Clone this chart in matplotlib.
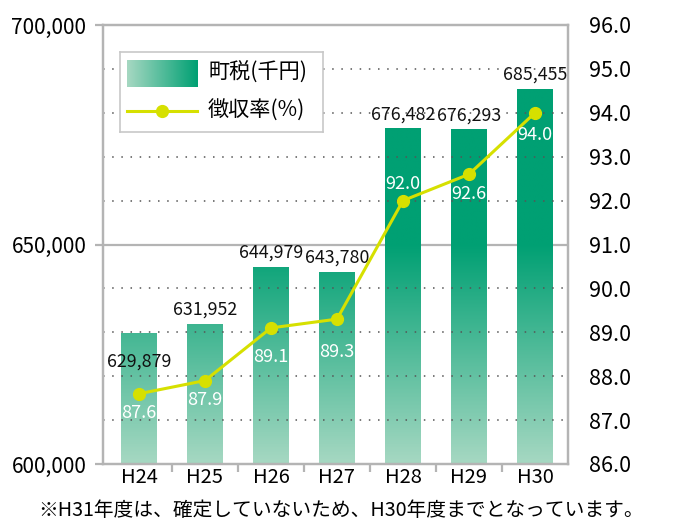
import numpy as np
import matplotlib
matplotlib.use("Agg")
import matplotlib.pyplot as plt
from matplotlib.colors import LinearSegmentedColormap

plt.rcParams['font.family'] = ['Noto Sans CJK JP', 'DejaVu Sans']

years = ["H24", "H25", "H26", "H27", "H28", "H29", "H30"]
tax = [629879, 631952, 644979, 643780, 676482, 676293, 685455]
rate = [87.6, 87.9, 89.1, 89.3, 92.0, 92.6, 94.0]
left_ticks = [600000, 650000, 700000]
right_ticks = [86.0, 87.0, 88.0, 89.0, 90.0, 91.0, 92.0, 93.0, 94.0, 95.0, 96.0]
footnote = "※H31年度は、確定していないため、H30年度までとなっています。"

DARK = "#00a073"
LIGHT = "#a6d8c2"
GRAY = "#b4b4b4"
LINE = "#d6e000"
cmap = LinearSegmentedColormap.from_list("g", [LIGHT, DARK])

W, H = 683, 528
fig = plt.figure(figsize=(W / 100, H / 100), dpi=100)
ax = fig.add_axes([103 / W, 1 - 464 / H, 465 / W, 439 / H])
x = np.arange(len(years))

# dotted grid at right-axis positions (the 650,000 line is solid)
ax2 = ax.twinx()
ax2.set_ylim(86, 96)
for v in right_ticks[1:-1]:
    if v == 91.0:
        continue
    ax2.axhline(v, color="#555555", lw=1.1, ls=(0, (1, 5)), zorder=0)
ax.axhline(650000, color=GRAY, lw=1.6, zorder=0.5)

# gradient bars: solid above 650,000, fading to light at 600,000
yy = np.linspace(700000, 600000, 400)
grad = np.clip((yy - 600000) / 50000, 0, 1)[:, None]
bars = ax.bar(x, tax, width=0.545, color="none", zorder=1)
for b in bars:
    im = ax.imshow(grad, cmap=cmap, vmin=0, vmax=1, aspect="auto",
                   extent=[b.get_x(), b.get_x() + b.get_width(), 600000, 700000],
                   zorder=1, interpolation="bilinear")
    im.set_clip_path(b)
ax.set_xlim(-0.545, 6.5)
ax.set_ylim(600000, 700000)

for i, v in enumerate(tax):
    if i == 0:
        ax.annotate(f"{v:,}", (i, v), xytext=(0, -21), textcoords="offset points",
                    ha="center", va="center", fontsize=12.8, color="#111111", zorder=3)
    else:
        ax.annotate(f"{v:,}", (i, v), xytext=(0, 3.5), textcoords="offset points",
                    ha="center", va="bottom", fontsize=12.8, color="#111111", zorder=3)

ax2.plot(x, rate, color=LINE, lw=2.2, marker="o", ms=8.5, mfc=LINE, mec=LINE, zorder=4)
label_off = [-14, -14, -21, -24, 12, -14, -16]
for i, v in enumerate(rate):
    ax2.annotate(f"{v:.1f}", (i, v), xytext=(0, label_off[i]), textcoords="offset points",
                 ha="center", va="center", fontsize=13, color="white", zorder=5)

# axes styling
for a in (ax, ax2):
    for s in a.spines.values():
        s.set_color(GRAY)
        s.set_linewidth(1.6)
ax.set_yticks(left_ticks)
ax.set_yticklabels([f"{v:,}" for v in left_ticks], fontsize=15)
ax.tick_params(axis="y", length=6, width=1.6, color=GRAY, pad=6)
ax2.set_yticks(right_ticks)
ax2.set_yticklabels([f"{v:.1f}" for v in right_ticks], fontsize=15.5)
ax2.tick_params(axis="y", length=0, pad=15)
ax.set_xticks(x)
ax.set_xticklabels(years, fontsize=14.5)
ax.tick_params(axis="x", length=0, pad=2)
ax.set_xticks(x[:-1] + 0.5, minor=True)
ax.tick_params(axis="x", which="minor", length=6, width=1.6, color=GRAY)

# legend drawn by hand
lg = fig.add_axes([120 / W, 1 - 132 / H, 203 / W, 80 / H])
lg.set_xticks([])
lg.set_yticks([])
for s in lg.spines.values():
    s.set_color("#c8c8c8")
    s.set_linewidth(1.2)
lg.imshow(np.linspace(0, 1, 100)[None, :], cmap=cmap, aspect="auto",
          extent=[7, 78, 35, 8], interpolation="bilinear")
lg.plot([7, 77], [59, 59], color=LINE, lw=2.2)
lg.plot([42], [59], marker="o", ms=8.5, color=LINE)
lg.text(88, 21, "町税(千円)", fontsize=15.2, va="center", ha="left")
lg.text(88, 59, "徴収率(%)", fontsize=15.2, va="center", ha="left")
lg.set_xlim(0, 203)
lg.set_ylim(80, 0)

fig.text(0.5, 1 - 510 / H, footnote, ha="center", va="center", fontsize=14.2)

fig.savefig("out.png", dpi=100)
